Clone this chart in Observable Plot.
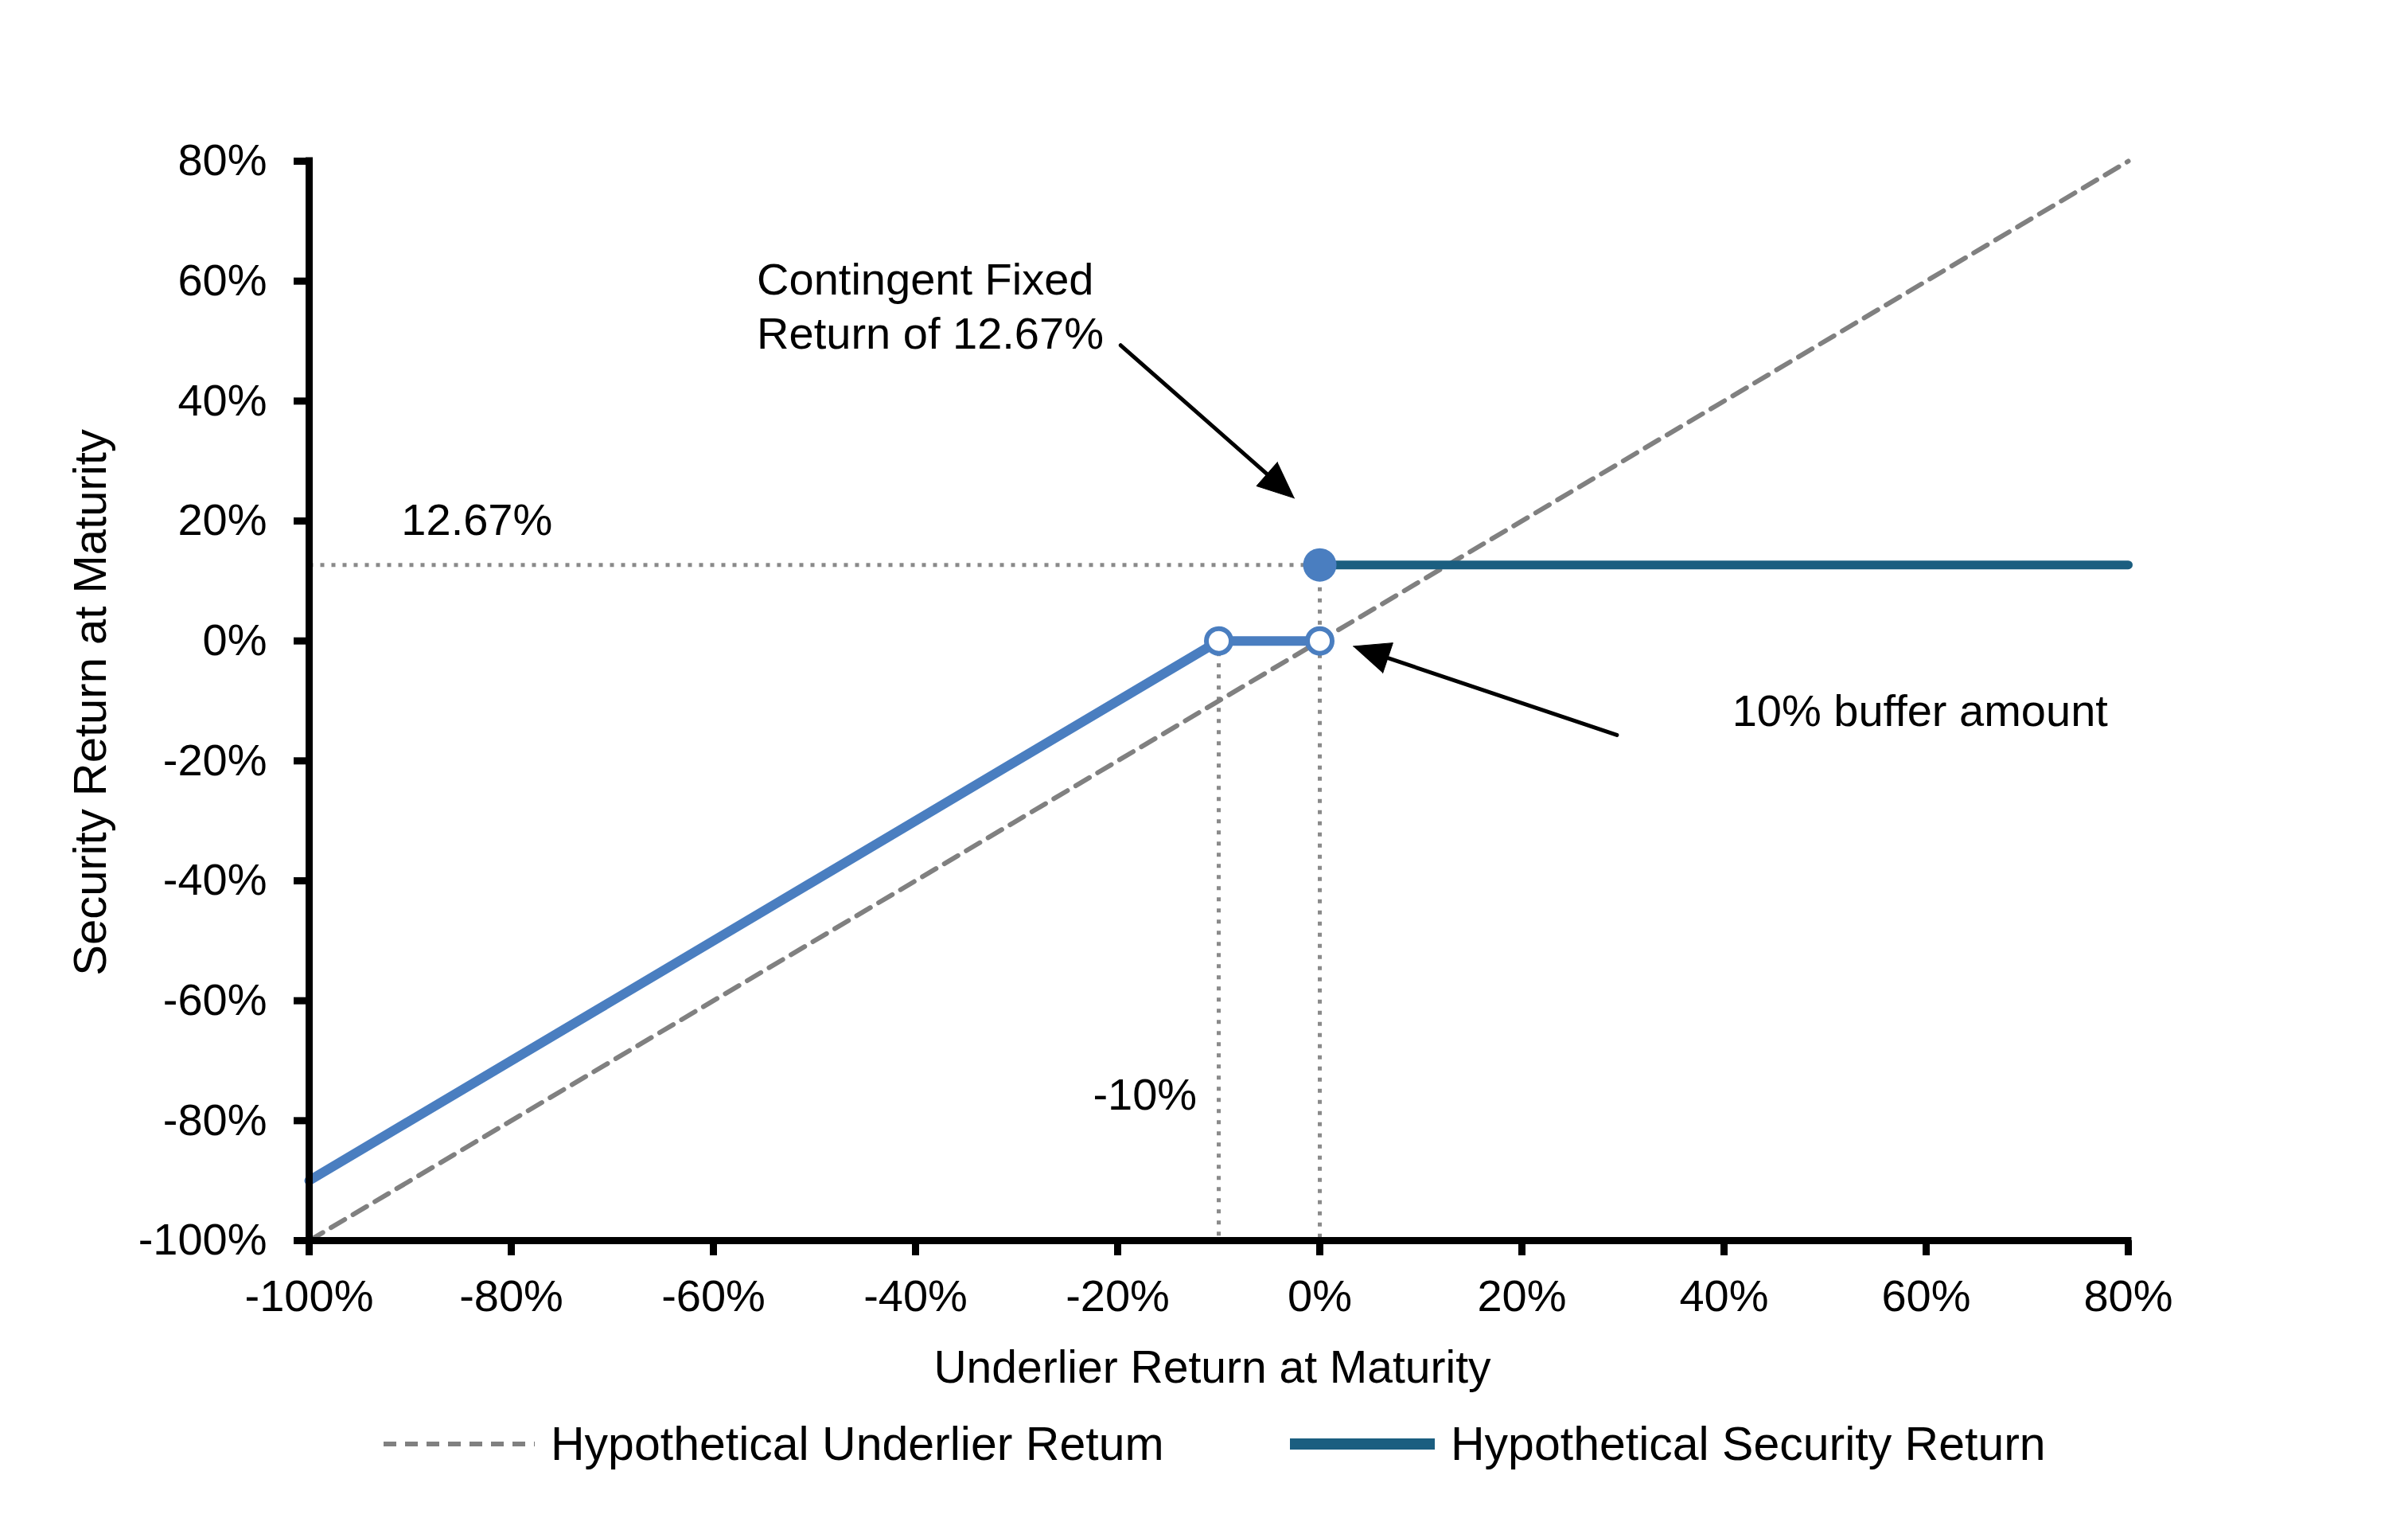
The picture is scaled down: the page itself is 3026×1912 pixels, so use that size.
<!DOCTYPE html>
<html>
<head>
<meta charset="utf-8">
<script src="https://cdn.jsdelivr.net/npm/d3@7"></script>
<script src="https://cdn.jsdelivr.net/npm/@observablehq/plot@0.6"></script>
<style>
  body { margin: 0; background: #ffffff; font-family: "Liberation Sans", Arial, sans-serif; }
  #legend { position: relative; width: 3026px; height: 110px; font-size: 59px; color: #000; }
  .item { position: absolute; top: 0; height: 88px; display: flex; align-items: center; white-space: nowrap; }
  .item svg { display: block; margin-right: 20px; }
</style>
</head>
<body>
<div id="chart"></div>
<div id="legend"></div>
<script>
// ---------- data ----------
const xTicks = [-100, -80, -60, -40, -20, 0, 20, 40, 60, 80];
const yTicks = [-100, -80, -60, -40, -20, 0, 20, 40, 60, 80];
const xDomain = [-100, 80];
const yDomain = [-100, 80];

// Hypothetical underlier return (dashed diagonal)
const underlierX = [-100, 80];
const underlierY = [-100, 80];

// Buffered part of the security return (light blue)
const bufferX = [-100, -10, 0];
const bufferY = [-90, 0, 0];

// Contingent fixed return (dark teal)
const fixedReturn = 12.67;
const fixedX = [0, 80];
const fixedY = [fixedReturn, fixedReturn];

// Open circles and filled dot
const openDotX = [-10, 0];
const openDotY = [0, 0];
const filledDotX = [0];
const filledDotY = [fixedReturn];

// Dotted guide lines: [x1, y1, x2, y2]
const guides = [
  [-100, fixedReturn, 0, fixedReturn],
  [-10, 0, -10, -100],
  [0, fixedReturn, 0, -100]
];

// Annotation texts and anchors (data coordinates)
const labelTexts = ["12.67%", "-10%", "Contingent Fixed\nReturn of 12.67%", "10% buffer amount"];
const labelX = [-83.4, -17.3, -55.7, 40.8];
const labelY = [20.1, -75.8, 56.1, -11.3];
const labelAnchor = ["middle", "middle", "start", "start"];

// Annotation arrows: start (x1,y1) -> tip (x2,y2)
const arrowX1 = [-19.7, 29.4];
const arrowY1 = [49.3, -15.7];
const arrowX2 = [-2.5, 3.3];
const arrowY2 = [23.8, -0.9];

const xTitle = "Underlier Return at Maturity";
const yTitle = "Security Return at Maturity";
const legendLabels = ["Hypothetical Underlier Retum", "Hypothetical Security Return"];

// ---------- layout & style ----------
const W = 3026, H = 1770, ML = 388, MR = 352, MT = 202, MB = 212;
const FONT = "Liberation Sans, Arial, sans-serif";
const FS = 56;
const blue = "#4a7ec0";
const teal = "#1b5e80";
const gray = "#808080";

const kx = (W - ML - MR) / (xDomain[1] - xDomain[0]);
const ky = (H - MT - MB) / (yDomain[1] - yDomain[0]);

// ---------- derived tables ----------
const pts = (xs, ys) => xs.map((x, i) => ({x, y: ys[i]}));
const underlier = pts(underlierX, underlierY);
const buffer = pts(bufferX, bufferY);
const fixed = pts(fixedX, fixedY);
const openDots = pts(openDotX, openDotY);
const filledDots = pts(filledDotX, filledDotY);
const guideRows = guides.map(([x1, y1, x2, y2]) => ({x1, y1, x2, y2}));
const labels = labelTexts.map((t, i) => ({t, x: labelX[i], y: labelY[i], a: labelAnchor[i]}));

const headLen = 46, headWid = 40;
const shafts = [], heads = [];
arrowX1.forEach((x1, i) => {
  const y1 = arrowY1[i], x2 = arrowX2[i], y2 = arrowY2[i];
  const dxs = (x2 - x1) * kx, dys = -(y2 - y1) * ky;
  const L = Math.hypot(dxs, dys);
  const ux = dxs / L, uy = dys / L;
  const bx = -ux * headLen, by = -uy * headLen;
  const px = -uy * headWid / 2, py = ux * headWid / 2;
  const toData = (sx, sy) => ({x: x2 + sx / kx, y: y2 - sy / ky, id: i});
  shafts.push({id: i, x: x1, y: y1});
  shafts.push(toData(bx * 0.8, by * 0.8));
  heads.push(toData(0, 0), toData(bx + px, by + py), toData(bx - px, by - py));
});

// axis title positions (outside the frame, expressed in data units)
const xTitleRow = [{t: xTitle, x: (xDomain[0] + xDomain[1]) / 2 - 8 / kx, y: yDomain[0] - 160 / ky}];
const yTitleRow = [{t: yTitle, x: xDomain[0] - 274 / kx, y: (yDomain[0] + yDomain[1]) / 2 - 2 / ky}];

// ---------- chart ----------
const chart = Plot.plot({
  width: W,
  height: H,
  marginLeft: ML,
  marginRight: MR,
  marginTop: MT,
  marginBottom: MB,
  style: {fontFamily: FONT, fontSize: FS + "px", color: "#000", background: "#fff"},
  x: {domain: xDomain},
  y: {domain: yDomain},
  marks: [
    // dotted guides
    Plot.link(guideRows, {x1: "x1", y1: "y1", x2: "x2", y2: "y2", stroke: "#8a8a8a", strokeWidth: 5, strokeDasharray: "5 9"}),
    // dashed underlier
    Plot.line(underlier, {x: "x", y: "y", stroke: gray, strokeWidth: 6, strokeDasharray: "20 12"}),
    // security return lines
    Plot.line(buffer, {x: "x", y: "y", stroke: blue, strokeWidth: 12}),
    Plot.line(fixed, {x: "x", y: "y", stroke: teal, strokeWidth: 11}),
    // axes lines
    Plot.ruleX([xDomain[0]], {stroke: "#000", strokeWidth: 9, strokeLinecap: "square"}),
    Plot.ruleY([yDomain[0]], {stroke: "#000", strokeWidth: 9, strokeLinecap: "square"}),
    Plot.axisX({ticks: xTicks, tickFormat: d => `${d}%`, tickSize: 19, tickPadding: 30, strokeWidth: 9, fontSize: FS, label: null}),
    Plot.axisY({ticks: yTicks, tickFormat: d => `${d}%`, tickSize: 19, tickPadding: 34, strokeWidth: 9, fontSize: FS, label: null}),
    // points
    Plot.dot(openDots, {x: "x", y: "y", r: 15.5, fill: "#fff", stroke: blue, strokeWidth: 6}),
    Plot.dot(filledDots, {x: "x", y: "y", r: 21, fill: blue}),
    // arrows
    Plot.line(shafts, {x: "x", y: "y", z: "id", stroke: "#000", strokeWidth: 5}),
    Plot.line(heads, {x: "x", y: "y", z: "id", fill: "#000", stroke: "#000", strokeWidth: 1}),
    // annotations
    Plot.text(labels.filter(d => d.a === "middle"), {x: "x", y: "y", text: "t", fontSize: FS, fill: "#000", textAnchor: "middle"}),
    Plot.text(labels.filter(d => d.a === "start"), {x: "x", y: "y", text: "t", fontSize: FS, fill: "#000", textAnchor: "start", lineHeight: 1.2}),
    // axis titles
    Plot.text(xTitleRow, {x: "x", y: "y", text: "t", fontSize: 57, fill: "#000", clip: false}),
    Plot.text(yTitleRow, {x: "x", y: "y", text: "t", rotate: -90, fontSize: 58, fill: "#000", clip: false})
  ]
});
document.getElementById("chart").appendChild(chart);

// ---------- legend ----------
const legend = document.getElementById("legend");
const items = [
  {left: 482, svg: `<svg width="190" height="20"><line x1="0" y1="10" x2="190" y2="10" stroke="${gray}" stroke-width="6" stroke-dasharray="16 11"/></svg>`, text: legendLabels[0]},
  {left: 1621, svg: `<svg width="182" height="20"><line x1="0" y1="10" x2="182" y2="10" stroke="${teal}" stroke-width="14"/></svg>`, text: legendLabels[1]}
];
items.forEach(it => {
  const d = document.createElement("div");
  d.className = "item";
  d.style.left = it.left + "px";
  d.innerHTML = it.svg + `<span>${it.text}</span>`;
  legend.appendChild(d);
});
</script>
</body>
</html>
